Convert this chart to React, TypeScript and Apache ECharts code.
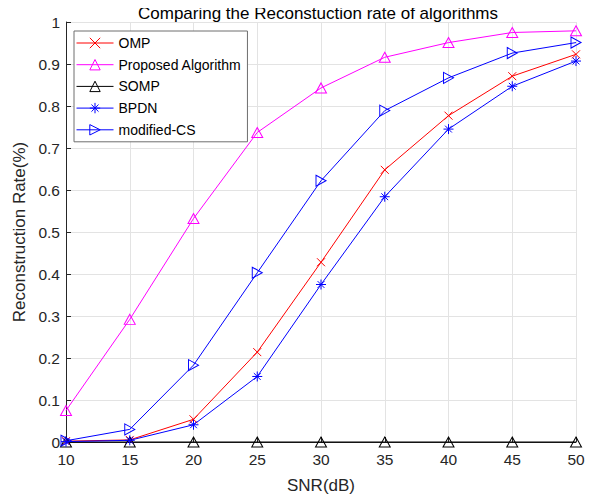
import React, { useEffect, useRef } from "react";
import * as echarts from "echarts";

const snr = [10, 15, 20, 25, 30, 35, 40, 45, 50];
const omp = [0.002, 0.005, 0.054, 0.214, 0.428, 0.648, 0.777, 0.871, 0.923];
const proposed = [0.075, 0.292, 0.532, 0.737, 0.843, 0.916, 0.951, 0.975, 0.979];
const somp = [0, 0, 0, 0, 0, 0, 0, 0, 0];
const bpdn = [0.001, 0.004, 0.041, 0.156, 0.375, 0.584, 0.745, 0.847, 0.907];
const modifiedCS = [0.003, 0.03, 0.183, 0.403, 0.622, 0.789, 0.867, 0.926, 0.951];

const seriesNames = ["OMP", "Proposed Algorithm", "SOMP", "BPDN", "modified-CS"];
const xTicks = { min: 10, max: 50, interval: 5 };
const yTicks = { min: 0, max: 1, interval: 0.1 };

const FONT = "'Liberation Sans', Arial, Helvetica, sans-serif";

const crossPath = "path://M0,0L10,10M10,0L0,10";
const asteriskPath = "path://M5,0L5,10M0,5L10,5M1.6,1.6L8.4,8.4M8.4,1.6L1.6,8.4";
const triRightPath = "path://M0,0L10,5L0,10Z";
const triUpPath = "path://M5,0L10,9L0,9Z";

function mk(name: string, ys: number[], color: string, symbol: string, size: number | number[]) {
  return {
    name,
    type: "line",
    data: snr.map((x, i) => [x, ys[i]]),
    symbol,
    symbolSize: size,
    showAllSymbol: true,
    lineStyle: { color, width: 1 },
    itemStyle: { color: "rgba(0,0,0,0)", borderColor: color, borderWidth: 1 },
    emphasis: { disabled: true },
    clip: false,
  };
}

export default function App() {
  const ref = useRef<HTMLDivElement>(null);
  useEffect(() => {
    const chart = echarts.init(ref.current!, null, { renderer: "svg" });
    chart.setOption({
      animation: false,
      backgroundColor: "#fff",
      textStyle: { fontFamily: FONT },
      title: {
        text: "Comparing the Reconstuction rate of algorithms",
        left: 318,
        top: 5,
        padding: 0,
        textAlign: "center",
        textStyle: { fontFamily: FONT, fontSize: 17, fontWeight: "normal", color: "#000" },
      },
      grid: { left: 66, right: 23, top: 22, bottom: 60, containLabel: false },
      legend: {
        data: seriesNames,
        orient: "vertical",
        left: 74,
        top: 31,
        itemWidth: 37,
        itemHeight: 13,
        itemGap: 7.7,
        padding: [5, 6, 5, 2],
        borderColor: "#6e6e6e",
        borderWidth: 1,
        backgroundColor: "#fff",
        itemStyle: { borderWidth: 1 },
        lineStyle: { width: 1 },
        textStyle: { fontFamily: FONT, fontSize: 14, color: "#000", padding: [0, 0, 0, 0] },
      },
      xAxis: {
        type: "value",
        min: xTicks.min,
        max: xTicks.max,
        interval: xTicks.interval,
        name: "SNR(dB)",
        nameLocation: "middle",
        nameGap: 35,
        nameTextStyle: { fontFamily: FONT, fontSize: 17, color: "#262626" },
        axisLine: { onZero: false, lineStyle: { color: "#262626", width: 1 } },
        axisTick: { inside: true, length: 5, lineStyle: { color: "#262626" } },
        axisLabel: { fontFamily: FONT, fontSize: 15.5, color: "#262626", margin: 9 },
        splitLine: { show: true, lineStyle: { color: "#e3e3e3", width: 1 } },
      },
      yAxis: {
        type: "value",
        min: yTicks.min,
        max: yTicks.max,
        interval: yTicks.interval,
        name: "Reconstruction Rate(%)",
        nameLocation: "middle",
        nameGap: 35,
        nameTextStyle: { fontFamily: FONT, fontSize: 17, color: "#262626" },
        axisLine: { show: true, onZero: false, lineStyle: { color: "#262626", width: 1 } },
        axisTick: { show: true, inside: true, length: 5, lineStyle: { color: "#262626" } },
        axisLabel: { fontFamily: FONT, fontSize: 15.5, color: "#262626", margin: 6 },
        splitLine: { show: true, lineStyle: { color: "#e3e3e3", width: 1 } },
      },
      series: [
        mk("OMP", omp, "#ff0000", crossPath, 8),
        mk("Proposed Algorithm", proposed, "#ff00ff", triUpPath, [11, 10]),
        mk("SOMP", somp, "#000000", triUpPath, [11, 10]),
        mk("BPDN", bpdn, "#0000ff", asteriskPath, 10),
        mk("modified-CS", modifiedCS, "#0000ff", triRightPath, [10, 11]),
      ],
    });
    return () => chart.dispose();
  }, []);
  return <div ref={ref} style={{ width: 599, height: 502, margin: -8 }} />;
}
